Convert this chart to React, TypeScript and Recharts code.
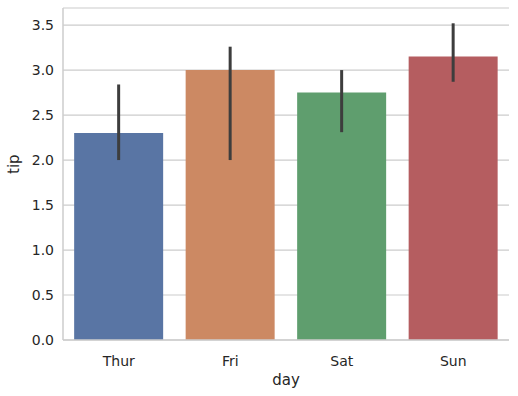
import React from 'react';
import { BarChart, Bar, XAxis, YAxis, CartesianGrid, ErrorBar, Cell } from 'recharts';

const days = ['Thur', 'Fri', 'Sat', 'Sun'];
const tipMedian = [2.3, 3.0, 2.75, 3.15];
const ciLow = [2.0, 2.0, 2.31, 2.87];
const ciHigh = [2.84, 3.26, 3.0, 3.52];
const yTicks = [0, 0.5, 1.0, 1.5, 2.0, 2.5, 3.0, 3.5];

const COLORS = ['#5975a4', '#cc8963', '#5f9e6e', '#b55d60'];

const data = days.map((d, i) => ({
  day: d,
  tip: tipMedian[i],
  err: [tipMedian[i] - ciLow[i], ciHigh[i] - tipMedian[i]],
}));

const font = 'DejaVu Sans, sans-serif';
const GRID = '#cccccc';

export default function App() {
  return (
    <div style={{ position: 'absolute', left: 0, top: 0, background: '#fff' }}>
      <BarChart
        width={518}
        height={396}
        data={data}
        margin={{ top: 8, right: 9, bottom: 26, left: 0 }}
        barCategoryGap="10%"
        style={{ fontFamily: font }}
      >
        <CartesianGrid vertical={false} stroke={GRID} strokeWidth={1.2} />
        <XAxis
          dataKey="day"
          height={30}
          axisLine={{ stroke: GRID, strokeWidth: 1.5 }}
          tickLine={false}
          tickSize={0}
          tickMargin={16}
          tick={{ fill: '#262626', fontSize: 14 }}
          label={{ value: 'day', position: 'insideBottom', offset: -15, fill: '#262626', fontSize: 15 }}
        />
        <XAxis xAxisId="top" orientation="top" dataKey="day" height={0} tick={false} tickLine={false} axisLine={{ stroke: GRID, strokeWidth: 1.5 }} />
        <YAxis
          width={63}
          domain={[0, 3.69]}
          ticks={yTicks}
          tickFormatter={(v: number) => v.toFixed(1)}
          axisLine={{ stroke: GRID, strokeWidth: 1.5 }}
          tickLine={false}
          tickSize={0}
          tickMargin={9}
          tick={{ fill: '#262626', fontSize: 14 }}
          allowDataOverflow
          label={{ value: 'tip', angle: -90, position: 'insideLeft', offset: 14, fill: '#262626', fontSize: 15 }}
        />
        <YAxis yAxisId="right" orientation="right" width={0} domain={[0, 3.69]} tick={false} tickLine={false} axisLine={{ stroke: GRID, strokeWidth: 1.5 }} />
        <Bar dataKey="tip" isAnimationActive={false}>
          {data.map((entry, index) => (
            <Cell key={`cell-${index}`} fill={COLORS[index]} />
          ))}
          <ErrorBar dataKey="err" width={0} stroke="#3d3d3d" strokeWidth={3} direction="y" />
        </Bar>
      </BarChart>
    </div>
  );
}
